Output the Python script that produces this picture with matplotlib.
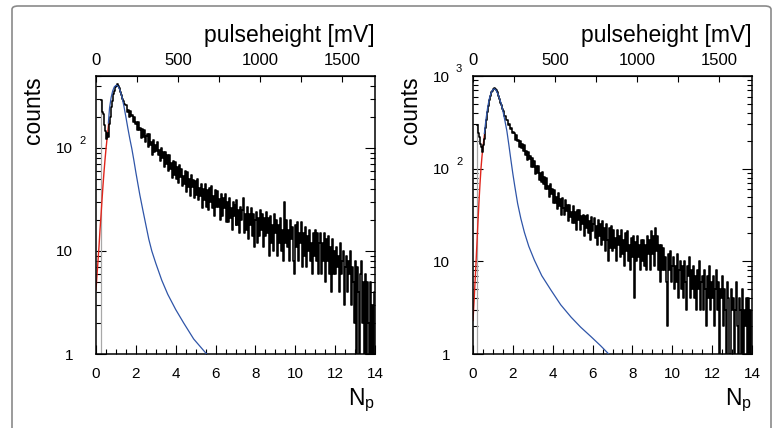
import matplotlib
matplotlib.use('Agg')
import numpy as np
import matplotlib.pyplot as plt
from matplotlib.patches import FancyBboxPatch
from matplotlib.ticker import FixedLocator, MultipleLocator, LogLocator, NullFormatter
from matplotlib.transforms import offset_copy

plt.rcParams['font.family'] = ['Liberation Sans', 'DejaVu Sans']
plt.rcParams['mathtext.fontset'] = 'custom'
plt.rcParams['mathtext.rm'] = 'Liberation Sans'
plt.rcParams['mathtext.it'] = 'Liberation Sans'

MV_PER_NP = 121.5
BIN_WIDTH = 0.05

# left panel
left_start = 0.25
left_counts = [
    290, 226, 214, 168, 146, 122, 141, 128, 170, 201,
    250, 287, 334, 359, 392, 401, 414, 396, 381, 349,
    330, 300, 289, 265, 262,
    261, 224, 232, 202, 227, 203, 207, 178, 201, 172, 179,
    148, 179, 149, 158, 124, 154, 128, 150, 115, 131,
    137, 102, 137, 107, 115, 86, 119, 91, 108, 94,
    114, 85, 95, 74, 100, 80, 92, 65, 92, 70,
    86, 60, 85, 63, 71, 51, 74, 55, 73, 50,
    65, 46, 68, 52, 63, 43, 54, 45, 60, 37,
    58, 42, 50, 34, 55, 42, 49, 33, 48, 35,
    50, 31, 41, 34, 45, 26, 40, 31, 45, 27,
    39, 25, 41, 30, 43, 26, 34, 22, 39, 27,
    38, 27, 32, 20, 36, 22, 33, 26, 36, 19,
    30, 19, 33, 21, 26, 16, 30, 22, 28, 18,
    31, 18, 25, 15, 27, 20, 25, 33, 15, 23,
    16, 27, 13, 23, 18, 26, 14, 23, 11, 20,
    24, 12, 21, 14, 25, 16, 23, 11, 21, 14,
    24, 15, 21, 9, 22, 12, 18, 10, 23, 15,
    20, 9, 18, 12, 21, 10, 16, 8, 30, 12,
    20, 11, 16, 8, 20, 13, 17, 8, 6, 18,
    11, 19, 8, 15, 12, 19, 7, 15, 9, 17,
    7, 14, 10, 16, 8, 12, 6, 15, 9, 16,
    8, 15, 6, 12, 15, 6, 12, 8, 15, 5,
    13, 8, 14, 6, 11, 4, 13, 6, 10, 6,
    11, 7, 9, 4, 12, 6, 8, 10, 3, 7,
    9, 4, 8, 6, 10, 3, 7, 5, 2, 8,
    0, 7, 4, 0, 6, 8, 2, 5, 1, 6,
    0, 5, 2, 1, 5, 0, 3, 1, 4,
]
left_red_x = [0.0, 0.05, 0.10, 0.15, 0.20, 0.25, 0.30, 0.35, 0.40, 0.45, 0.50, 0.55, 0.60, 0.65]
left_red_y = [4.2, 5.8, 8.0, 11, 16, 22, 31, 43, 58, 76, 97, 121, 150, 185]
left_blue_x = [0.62, 0.68, 0.76, 0.84, 0.92, 1.00, 1.04, 1.12, 1.20, 1.30, 1.40, 1.50,
               1.60, 1.70, 1.80, 1.90, 2.00, 2.10, 2.20, 2.35, 2.50, 2.65, 2.80,
               3.00, 3.30, 3.60, 4.00, 4.40, 4.90, 5.55]
left_blue_y = [175, 245, 310, 360, 392, 405, 406, 395, 365, 315, 255, 200,
               155, 122, 98, 76, 58, 45, 35, 25, 18, 13, 10,
               7.6, 5.2, 3.8, 2.7, 2.0, 1.4, 1.0]

# right panel
right_start = 0.2
right_counts = [
    295, 244, 218, 184, 171, 152, 179, 208, 272, 331,
    409, 473, 551, 606, 667, 697, 731, 738, 733, 698,
    668, 607, 566, 508, 481, 441, 419, 372, 371, 334,
    336, 298, 304, 271, 276, 245, 247,
    243, 204, 233, 199, 203, 172, 197, 167, 185, 154,
    179, 142, 154, 123, 150, 126, 136, 104, 131, 103,
    122, 87, 108, 90, 107, 75, 89, 72, 92, 69,
    82, 60, 80, 60, 65, 49, 69, 53, 61, 43,
    59, 43, 50, 37, 55, 40, 47, 32, 48, 38,
    32, 46, 35, 41, 27, 41, 30, 34, 26, 40,
    26, 34, 22, 36, 28, 36, 22, 31, 25, 32,
    19, 31, 23, 32, 20, 27, 17, 30, 21, 25,
    29, 18, 24, 15, 28, 19, 25, 15, 27, 17,
    23, 13, 25, 17, 10, 23, 14, 24, 13, 18,
    22, 14, 18, 10, 22, 15, 19, 11, 22, 12,
    17, 9, 20, 13, 21, 10, 15, 8, 18, 11,
    19, 4, 16, 10, 19, 11, 15, 8, 17, 10,
    17, 9, 15, 8, 19, 12, 17, 8, 21, 12,
    19, 9, 23, 13, 19, 8, 15, 6, 15, 8,
    14, 8, 11, 6, 2, 12, 8, 13, 6, 9,
    11, 5, 9, 6, 12, 4, 8, 10, 5, 9,
    4, 10, 6, 3, 9, 7, 11, 4, 8, 5,
    9, 4, 7, 3, 8, 5, 10, 3, 6, 7,
    3, 8, 5, 2, 7, 4, 9, 3, 6, 4,
    7, 2, 5, 8, 3, 6, 1, 5, 4, 7,
    2, 5, 3, 0, 6, 4, 1, 0, 5, 3,
    4, 0, 3, 6, 2, 0, 4, 3, 1, 5,
    0, 3, 2, 4, 0, 4, 1, 3, 0,
]
right_red_x = [0.0, 0.05, 0.10, 0.15, 0.20, 0.25, 0.30, 0.35, 0.40, 0.45, 0.50, 0.55, 0.60]
right_red_y = [2.3, 3.6, 5.8, 9.5, 16, 27, 44, 68, 100, 135, 172, 210, 255]
right_blue_x = [0.57, 0.65, 0.74, 0.82, 0.90, 0.98, 1.07, 1.15, 1.24, 1.32, 1.40, 1.50,
                1.60, 1.70, 1.80, 1.90, 2.00, 2.10, 2.24, 2.40, 2.58, 2.80, 3.08,
                3.45, 3.91, 4.40, 4.92, 5.40, 5.92, 6.40, 6.81]
right_blue_y = [240, 340, 465, 570, 650, 705, 728, 705, 645, 580, 515, 420,
                330, 255, 180, 125, 88, 64, 42, 29, 20.5, 14.5, 10.3,
                7.0, 4.9, 3.4, 2.5, 1.95, 1.54, 1.23, 1.0]


def plot_panel(fig, rect, start, counts, red_x, red_y, blue_x, blue_y, ymax, sups):
    ax = fig.add_axes(rect)
    edges = start + BIN_WIDTH * np.arange(len(counts) + 1)
    ax.plot(edges, list(counts) + [counts[-1]], drawstyle='steps-post',
            color='black', lw=1.15, zorder=3)
    ax.vlines(edges[0], 1, counts[0], color='#a8a8a8', lw=0.9, zorder=2)
    ax.plot(red_x, red_y, color='#e0261c', lw=1.0, zorder=2)
    ax.plot(blue_x, blue_y, color='#2f55a8', lw=0.9, zorder=4)

    ax.set_yscale('log')
    ax.set_xlim(0, 14)
    ax.set_ylim(1, ymax)

    ax.xaxis.set_major_locator(MultipleLocator(2))
    ax.xaxis.set_minor_locator(MultipleLocator(0.5))
    ticks = [1, 10, 100, 1000][:len(sups) + 2]
    ax.yaxis.set_major_locator(FixedLocator(ticks))
    ax.set_yticklabels(['1'] + ['10'] * (len(ticks) - 1))
    ax.yaxis.set_minor_locator(LogLocator(base=10, subs=range(2, 10)))
    ax.yaxis.set_minor_formatter(NullFormatter())

    ax.tick_params(axis='x', which='major', direction='in', length=6.5, width=0.8,
                   top=False, labelsize=11, pad=9)
    ax.tick_params(axis='x', which='minor', direction='in', length=3.3, width=0.8, top=False)
    ax.tick_params(axis='y', which='major', direction='in', length=7.5, width=0.8,
                   left=True, right=True, labelsize=11, pad=16.5)
    ax.tick_params(axis='y', which='minor', direction='in', length=3.8, width=0.8,
                   left=True, right=True)
    for s in ax.spines.values():
        s.set_linewidth(1.1)

    sup_trans = offset_copy(ax.get_yaxis_transform(), fig=fig, x=-17, y=7, units='dots')
    for value, txt in sups:
        ax.text(0, value, txt, transform=sup_trans, ha='left', va='center', fontsize=8)

    top = ax.secondary_xaxis('top', functions=(lambda n: n * MV_PER_NP,
                                                lambda v: v / MV_PER_NP))
    top.xaxis.set_major_locator(FixedLocator([0, 500, 1000, 1500]))
    top.xaxis.set_minor_locator(FixedLocator([250, 750, 1250]))
    top.tick_params(which='major', direction='in', length=4.5, width=0.8,
                    labelsize=12, pad=6)
    top.tick_params(which='minor', direction='in', length=4.5, width=0.8)

    ax.text(1.0, 1.147, 'pulseheight [mV]', transform=ax.transAxes,
            ha='right', va='center', fontsize=16.5)
    ax.text(-0.225, 0.998, 'counts', transform=ax.transAxes, rotation=90,
            ha='center', va='top', fontsize=16.5)
    ax.text(1.0, -0.183, r'N$_{\mathrm{p}}$', transform=ax.transAxes,
            ha='right', va='baseline', fontsize=16.5)
    return ax


fig = plt.figure(figsize=(7.82, 4.28), dpi=100)
frame = FancyBboxPatch((12 / 782, -0.1), (771 - 12) / 782, 1.1 - 6 / 428,
                       boxstyle='round,pad=0,rounding_size=0.008',
                       transform=fig.transFigure, fill=False,
                       edgecolor='#8a8a8a', lw=1.2)
fig.patches.append(frame)

plot_panel(fig, [96 / 782, 1 - 354 / 428, 279 / 782, 278 / 428],
           left_start, left_counts, left_red_x, left_red_y,
           left_blue_x, left_blue_y, 500, [(100, '2')])
plot_panel(fig, [473 / 782, 1 - 354 / 428, 279 / 782, 278 / 428],
           right_start, right_counts, right_red_x, right_red_y,
           right_blue_x, right_blue_y, 1000, [(100, '2'), (1000, '3')])

fig.savefig('out.png', dpi=100)
